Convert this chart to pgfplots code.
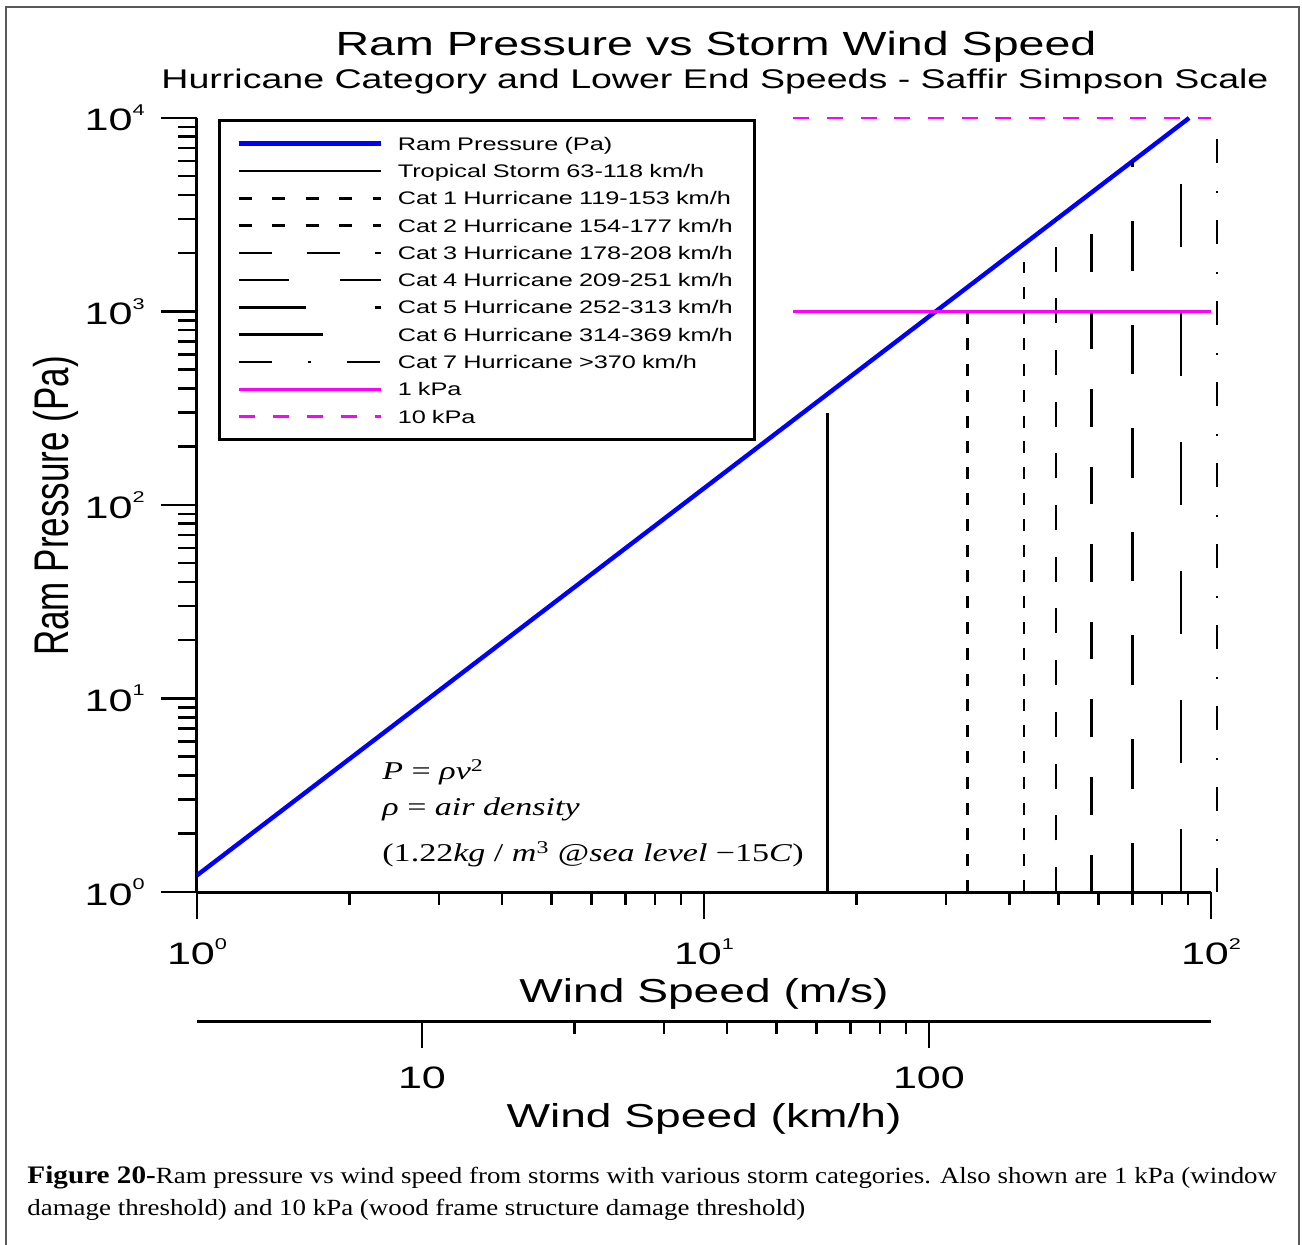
\documentclass[border=0pt]{standalone}
\usepackage{pgfplots}
\pgfplotsset{compat=1.18}
\usepackage{fontspec}
\setmainfont{Liberation Sans}
\newfontfamily\wide{Liberation Sans}[FakeStretch=1.39]
\newfontfamily\wideserif{Liberation Serif}[FakeStretch=1.33]
\newfontfamily\capfont{Liberation Serif}[FakeStretch=1.16]
\definecolor{rpblue}{RGB}{0,0,255}
\definecolor{kpamag}{RGB}{255,0,255}
\newcommand\tp[1]{10\raisebox{0.5em}{\fontsize{7.8}{8}\selectfont #1}}
\begin{document}
\begin{tikzpicture}
\begin{scope}[x=0.5pt,y=-0.5pt]
\path[use as bounding box] (0,0) rectangle (1302,1245);
\draw[line width=0.75pt, black!65] (6,1250) -- (6,7) -- (1299,7) -- (1299,1250);
\node[anchor=base, inner sep=0pt, font=\fontsize{16.75}{20}\wide] at (716,56) {Ram Pressure vs Storm Wind Speed};
\node[anchor=base, inner sep=0pt, font=\fontsize{13.5}{16}\wide] at (715,89) {Hurricane Category and Lower End Speeds - Saffir Simpson Scale};
\node[anchor=base west, inner sep=0pt, font=\fontsize{11.6}{14}\capfont] at (27,1183) {{\fontsize{12.6}{14}\selectfont\bfseries Figure 20-}Ram pressure vs wind speed from storms with various storm categories. Also shown are 1 kPa (window};
\node[anchor=base west, inner sep=0pt, font=\fontsize{11.6}{14}\capfont] at (27,1215) {damage threshold) and 10 kPa (wood frame structure damage threshold)};
\node[anchor=base west, inner sep=0pt, font=\fontsize{12.8}{14}\wideserif] at (382,780) {\textit{P} = \textit{ρv}\textsuperscript{2}};
\node[anchor=base west, inner sep=0pt, font=\fontsize{12.8}{14}\wideserif] at (382,815) {\textit{ρ} = \textit{air density}};
\node[anchor=base west, inner sep=0pt, font=\fontsize{12.8}{14}\wideserif] at (382,862) {(1.22\textit{kg} / \textit{m}\textsuperscript{3} @\textit{sea level} −15\textit{C})};
\end{scope}

% y axis (pressure)
\begin{axis}[
  at={(98.5pt,-446pt)}, anchor=south west,
  scale only axis, width=507pt, height=387pt,
  xmode=log, ymode=log, xmin=1, xmax=100, ymin=1, ymax=10000,
  hide x axis, axis y line*=left,
  axis line style={line width=1.5pt, black},
  tick align=outside, major tick length=18pt, minor tick length=9.5pt,
  tick style={line width=1.25pt, black},
  ytick={1,10,100,1000,10000},
  yticklabels={\tp{0},\tp{1},\tp{2},\tp{3},\tp{4}},
  yticklabel style={font=\fontsize{15.5}{18}\wide, anchor=east, inner sep=0pt, xshift=-8pt},
  ylabel={\scalebox{1}[1.39]{Ram Pressure (Pa)}},
  every axis y label/.style={at={(axis description cs:-0.1272,0.4987)}, anchor=base, rotate=90, font=\fontsize{17.5}{20}\selectfont},
]
\end{axis}

% km/h axis
\begin{axis}[
  at={(98.5pt,-510.5pt)}, anchor=south west,
  scale only axis, width=507pt, height=20pt,
  xmode=log, xmin=3.6, xmax=360, ymin=0, ymax=1,
  hide y axis, axis x line*=bottom,
  axis line style={line width=1.5pt, black},
  tick align=outside, major tick length=13.5pt, minor tick length=6.5pt,
  tick style={line width=1.25pt, black},
  xtick={10,100}, xticklabels={10,100},
  xticklabel style={font=\fontsize{15.5}{18}\wide, anchor=base, inner sep=0pt, yshift=-20pt},
  xlabel={Wind Speed (km/h)},
  every axis x label/.style={at={(axis description cs:0.5,-2.65)}, anchor=base, font=\fontsize{16.6}{20}\wide},
]
\end{axis}

% main data axis (m/s)
\begin{axis}[
  at={(98.5pt,-446pt)}, anchor=south west,
  scale only axis, width=507pt, height=387pt,
  xmode=log, ymode=log, xmin=1, xmax=100, ymin=1, ymax=10000,
  clip=false, hide y axis, axis x line*=bottom,
  axis line style={line width=1.5pt, black},
  tick align=outside, major tick length=13.5pt, minor tick length=6.5pt,
  tick style={line width=1.25pt, black},
  xtick={1,10,100}, xticklabels={\tp{0},\tp{1},\tp{2}},
  xticklabel style={font=\fontsize{15.5}{18}\wide, anchor=base, inner sep=0pt, yshift=-23pt},
  xlabel={Wind Speed (m/s)},
  every axis x label/.style={at={(axis description cs:0.5,-0.1434)}, anchor=base, font=\fontsize{16.6}{20}\wide},
  legend style={at={(0.0207,0.9985)}, anchor=north west, draw=black, line width=1.4pt,
    inner xsep=8.5pt, inner ysep=4.7pt, font=\fontsize{9.1}{10}\wide, row sep=0pt,
    nodes={inner sep=0pt, text height=10.075pt, text depth=3.575pt, text width=170pt, align=left},
    /tikz/every odd column/.append style={column sep=7.5pt}},
  legend cell align=left,
  legend image code/.code={\draw[#1] (0pt,0pt) -- (71pt,0pt);},
]
\addplot[rpblue, line width=2.2pt, forget plot] coordinates {(1,1.22) (90.54,10000)};
\addplot[black, line width=1.3pt, forget plot] coordinates {(17.5,1) (17.5,300)};
\addplot[black, line width=1.3pt, dash pattern=on 6pt off 6.9pt, forget plot] coordinates {(33.06,1) (33.06,1000)};
\addplot[black, line width=1.3pt, dash pattern=on 6pt off 6.9pt, forget plot] coordinates {(42.78,1) (42.78,1800)};
\addplot[black, line width=1.3pt, dash pattern=on 12.5pt off 13.35pt, forget plot] coordinates {(49.44,1) (49.44,2982)};
\addplot[black, line width=1.3pt, dash pattern=on 18.75pt off 20pt, forget plot] coordinates {(58.06,1) (58.06,4112)};
\addplot[black, line width=1.3pt, dash pattern=on 24.75pt off 27pt, forget plot] coordinates {(70.0,1) (70.0,5978)};
\addplot[black, line width=1.3pt, dash pattern=on 31.5pt off 33pt, forget plot] coordinates {(87.22,1) (87.22,9277)};
\addplot[black, line width=1.3pt, dash pattern=on 12pt off 13.5pt on 1.2pt off 13.8pt, forget plot] coordinates {(102.78,1) (102.78,9000)};
\addplot[kpamag, line width=1.2pt, forget plot] coordinates {(15,1000) (100,1000)};
\addplot[kpamag, line width=1.2pt, dash pattern=on 8pt off 8.85pt, forget plot] coordinates {(15,10000) (100,10000)};

\addlegendimage{rpblue, line width=2.2pt}
\addlegendentry{Ram Pressure (Pa)}
\addlegendimage{black, line width=1.3pt}
\addlegendentry{Tropical Storm 63-118 km/h}
\addlegendimage{black, line width=1.3pt, dash pattern=on 6.5pt off 10.3pt}
\addlegendentry{Cat 1 Hurricane 119-153 km/h}
\addlegendimage{black, line width=1.3pt, dash pattern=on 6.5pt off 10.3pt}
\addlegendentry{Cat 2 Hurricane 154-177 km/h}
\addlegendimage{black, line width=1.3pt, dash pattern=on 16.5pt off 17.5pt}
\addlegendentry{Cat 3 Hurricane 178-208 km/h}
\addlegendimage{black, line width=1.3pt, dash pattern=on 25pt off 25.5pt}
\addlegendentry{Cat 4 Hurricane 209-251 km/h}
\addlegendimage{black, line width=1.3pt, dash pattern=on 33.5pt off 34.5pt}
\addlegendentry{Cat 5 Hurricane 252-313 km/h}
\addlegendimage{black, line width=1.3pt, dash pattern=on 42pt off 45pt}
\addlegendentry{Cat 6 Hurricane 314-369 km/h}
\addlegendimage{black, line width=1.3pt, dash pattern=on 16.5pt off 18pt on 1.5pt off 18pt}
\addlegendentry{Cat 7 Hurricane >370 km/h}
\addlegendimage{kpamag, line width=1.2pt}
\addlegendentry{1 kPa}
\addlegendimage{kpamag, line width=1.2pt, dash pattern=on 8pt off 9pt}
\addlegendentry{10 kPa}
\end{axis}
\end{tikzpicture}
\end{document}
